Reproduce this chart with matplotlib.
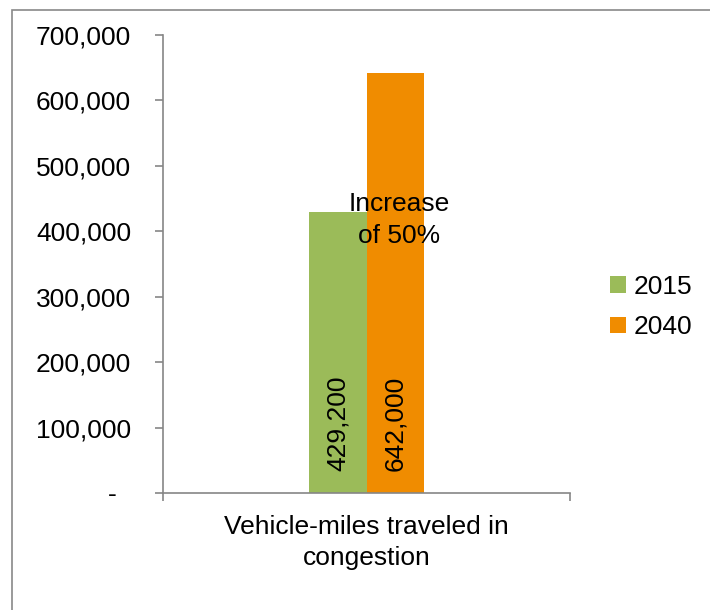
import matplotlib
matplotlib.use("Agg")
import matplotlib.pyplot as plt
from matplotlib.patches import Rectangle
from matplotlib.ticker import FuncFormatter

plt.rcParams['font.family'] = ['Liberation Sans', 'DejaVu Sans']

# data
categories = ["Vehicle-miles traveled in\ncongestion"]
series_names = ["2015", "2040"]
values_2015 = [429200]
values_2040 = [642000]
colors = ["#9BBB59", "#F08C00"]
note = "Increase\nof 50%"

fig = plt.figure(figsize=(7.1, 6.1), dpi=100)
ax = fig.add_axes([163 / 710, 1 - 493 / 610, (570 - 163) / 710, (493 - 35) / 610])

# outer chart border (runs off the right and bottom edge)
fig.patches.append(Rectangle((12 / 710, -0.1), 1.2, 1 - 10 / 610 + 0.1,
                             transform=fig.transFigure, fill=False,
                             edgecolor="#898989", linewidth=1.2))

w = 0.1425
x = 0
bars1 = ax.bar(x - w / 2, values_2015, w, color=colors[0], label=series_names[0])
bars2 = ax.bar(x + w / 2, values_2040, w, color=colors[1], label=series_names[1])

for bars in (bars1, bars2):
    for b in bars:
        ax.text(b.get_x() + b.get_width() / 2, 34000, f"{b.get_height():,.0f}",
                rotation=90, ha="center", va="bottom", fontsize=19)

ax.text(0.08, 417000, note, ha="center", va="center", fontsize=19,
        linespacing=1.4)

ax.set_xlim(-0.5, 0.5)
ax.set_ylim(0, 700000)
ax.set_yticks(range(0, 700001, 100000))
ax.yaxis.set_major_formatter(FuncFormatter(lambda v, p: "-  " if v == 0 else f"{v:,.0f}"))
ax.set_xticks([-0.5, 0.5])
ax.set_xticklabels(["", ""])
ax.set_xticks([0], minor=True)
ax.set_xticklabels(categories, minor=True, fontsize=19, linespacing=1.35)
ax.tick_params(axis="x", which="minor", length=0, pad=16)
ax.tick_params(axis="x", which="major", length=6, width=1.2, color="#868686")
ax.tick_params(axis="y", length=6, width=1.2, color="#868686", labelsize=19, pad=17)

for s in ("top", "right"):
    ax.spines[s].set_visible(False)
for s in ("left", "bottom"):
    ax.spines[s].set_color("#868686")
    ax.spines[s].set_linewidth(1.2)

ax.legend(loc="center left", bbox_to_anchor=(597 / 710, 1 - 307 / 610),
          bbox_transform=fig.transFigure, frameon=False, fontsize=19,
          handlelength=0.6, handleheight=0.6, handletextpad=0.3,
          labelspacing=0.62, borderpad=0)

fig.savefig("out.png", dpi=100)
